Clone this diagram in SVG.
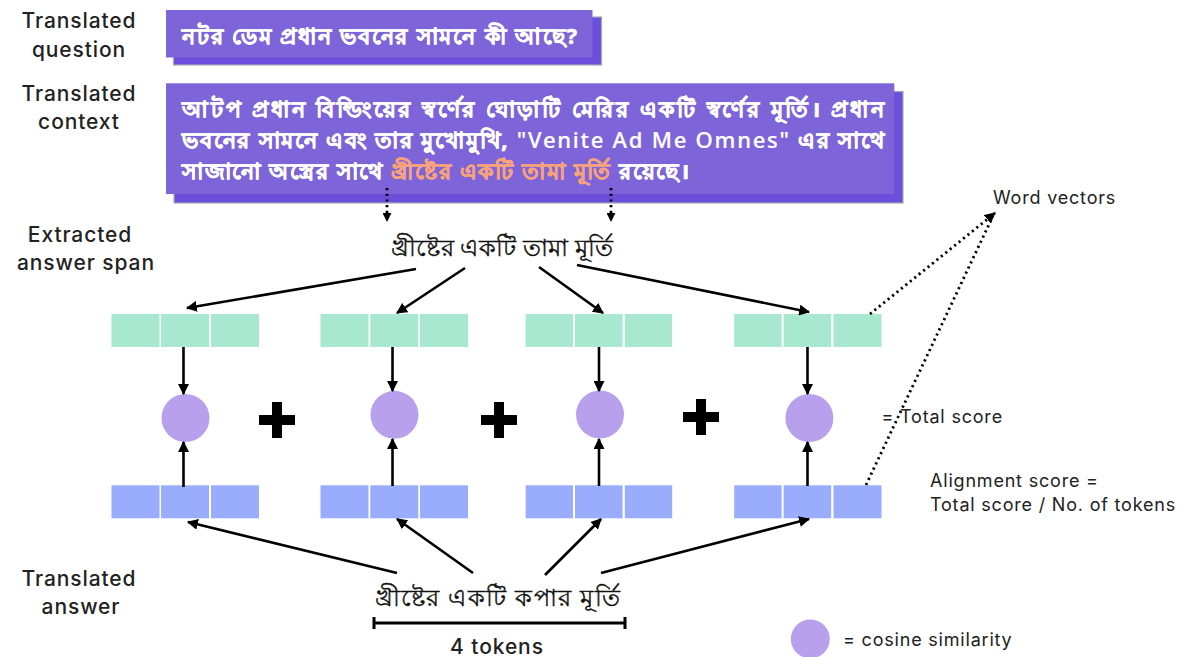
<svg xmlns="http://www.w3.org/2000/svg" width="1192" height="657" viewBox="0 0 1192 657">
<defs>
<style>
.lbl{font-family:Inter,"Open Sans",sans-serif;font-size:21px;font-weight:500;letter-spacing:0.9px;fill:#222;text-anchor:middle;dominant-baseline:central}
.note{font-family:Inter,"Open Sans",sans-serif;font-size:18px;letter-spacing:0.8px;fill:#222;dominant-baseline:central}
.bn{font-family:"Noto Sans","Noto Sans CJK SC",sans-serif;dominant-baseline:central}
.bw{fill:#fff;stroke:#fff;stroke-width:0.7px;font-weight:bold;font-size:22px}
.lat{font-weight:500;stroke-width:0.2px}
.bk{fill:#111;stroke:#111;stroke-width:0.35px;font-size:24px;text-anchor:middle}
.hl{fill:#f6a37c;stroke:#f6a37c}
.shadow{fill:#6b4fda;stroke:#a3aab3;stroke-width:1.2}
.main{fill:#7e64d9}
.g{fill:#a8e8d0}
.b{fill:#9aadfc}
.c{fill:#b9a0ec}
.ln{stroke:#000;stroke-width:2.6;fill:none}
.dot{stroke:#000;stroke-width:2.8;fill:none;stroke-dasharray:2.2 3.5}
</style>
<marker id="ah" viewBox="0 0 10 10" refX="9" refY="5" markerWidth="11" markerHeight="11" markerUnits="userSpaceOnUse" orient="auto">
<path d="M0,0 L10,5 L0,10 z" fill="#000"/>
</marker>
<marker id="ahs" viewBox="0 0 10 10" refX="9" refY="5" markerWidth="9" markerHeight="9" markerUnits="userSpaceOnUse" orient="auto">
<path d="M0,0 L10,5 L0,10 z" fill="#000"/>
</marker>
</defs>

<g id="labels">
<text class="lbl" x="79" y="20">Translated</text>
<text class="lbl" x="79" y="49">question</text>
<text class="lbl" x="79" y="93">Translated</text>
<text class="lbl" x="79" y="121">context</text>
<text class="lbl" x="80" y="234">Extracted</text>
<text class="lbl" x="86" y="262">answer span</text>
<text class="lbl" x="79" y="578">Translated</text>
<text class="lbl" x="81" y="606">answer</text>
</g>

<g id="question">
<rect class="shadow" x="173.5" y="17" width="428" height="48"/>
<rect class="main" x="166" y="10" width="426.5" height="47.5"/>
<text class="bn bw" x="182" y="35" textLength="395" lengthAdjust="spacing">নটর ডেম প্রধান ভবনের সামনে কী আছে?</text>
</g>

<g id="context">
<rect class="shadow" x="174" y="91.5" width="729" height="111.5"/>
<rect class="main" x="166" y="83.3" width="728.3" height="110.7"/>
<text class="bn bw" x="182" y="108" textLength="702" lengthAdjust="spacing">আটপ প্রধান বিল্ডিংয়ের স্বর্ণের ঘোড়াটি মেরির একটি স্বর্ণের মূর্তি। প্রধান</text>
<text class="bn bw" x="182" y="139" textLength="702" lengthAdjust="spacing">ভবনের সামনে এবং তার মুখোমুখি, <tspan class="lat">"Venite Ad Me Omnes"</tspan> এর সাথে</text>
<text class="bn bw" x="182" y="170" textLength="507" lengthAdjust="spacing">সাজানো অস্ত্রের সাথে <tspan class="hl">খ্রীষ্টের একটি তামা মূর্তি</tspan> রয়েছে।</text>
</g>

<g id="span">
<text class="bn bk" x="502" y="246" textLength="222" lengthAdjust="spacing">খ্রীষ্টের একটি তামা মূর্তি</text>
</g>

<g id="answer">
<text class="bn bk" x="497" y="596" textLength="245" lengthAdjust="spacing">খ্রীষ্টের একটি কপার মূর্তি</text>
</g>

<g id="word-vectors-label"><text class="note" x="993" y="197">Word vectors</text></g>

<g id="green-vectors">
<rect class="g" x="111.5" y="314" width="48" height="33"/><rect class="g" x="161" y="314" width="48" height="33"/><rect class="g" x="211" y="314" width="48" height="33"/>
<rect class="g" x="320.5" y="314" width="48" height="33"/><rect class="g" x="370.3" y="314" width="48" height="33"/><rect class="g" x="420" y="314" width="48" height="33"/>
<rect class="g" x="525.6" y="314" width="47.4" height="33"/><rect class="g" x="575" y="314" width="47.6" height="33"/><rect class="g" x="624.8" y="314" width="47.4" height="33"/>
<rect class="g" x="734.2" y="314" width="47.4" height="33"/><rect class="g" x="783.6" y="314" width="47.6" height="33"/><rect class="g" x="833.5" y="314" width="48" height="33"/>
</g>

<g id="blue-vectors">
<rect class="b" x="111.5" y="485.3" width="48" height="33"/><rect class="b" x="161" y="485.3" width="48" height="33"/><rect class="b" x="211" y="485.3" width="48" height="33"/>
<rect class="b" x="320.5" y="485.3" width="48" height="33"/><rect class="b" x="370.3" y="485.3" width="48" height="33"/><rect class="b" x="420" y="485.3" width="48" height="33"/>
<rect class="b" x="525.6" y="485.3" width="47.4" height="33"/><rect class="b" x="575" y="485.3" width="47.6" height="33"/><rect class="b" x="624.8" y="485.3" width="47.4" height="33"/>
<rect class="b" x="734.2" y="485.3" width="47.4" height="33"/><rect class="b" x="783.6" y="485.3" width="47.6" height="33"/><rect class="b" x="833.5" y="485.3" width="48" height="33"/>
</g>

<g id="similarity">
<circle class="c" cx="185.5" cy="418" r="24"/>
<circle class="c" cx="394.5" cy="414.8" r="24"/>
<circle class="c" cx="600" cy="414.5" r="24"/>
<circle class="c" cx="809.4" cy="418" r="24"/>
</g>

<g id="plus-signs" fill="#000">
<path d="M272,402 h10 v13 h13 v10 h-13 v13 h-10 v-13 h-13 v-10 h13 z"/>
<path d="M494,402 h10 v13 h13 v10 h-13 v13 h-10 v-13 h-13 v-10 h13 z"/>
<path d="M696,399 h10 v13 h13 v10 h-13 v13 h-10 v-13 h-13 v-10 h13 z"/>
</g>

<g id="total-score"><text class="note" x="881.5" y="416">= Total score</text></g>
<g id="alignment-score">
<text class="note" x="930" y="480">Alignment score =</text>
<text class="note" x="930" y="504">Total score / No. of tokens</text>
</g>

<g id="legend">
<circle class="c" cx="810.3" cy="639" r="19.5"/>
<text class="note" x="843" y="639">= cosine similarity</text>
</g>

<g id="token-count">
<path d="M374,623 H625 M374,617 V629 M625,617 V629" stroke="#000" stroke-width="3" fill="none"/>
<text class="lbl" x="497" y="646">4 tokens</text>
</g>

<g id="connectors">
<path class="dot" d="M387,188 V221" marker-end="url(#ahs)"/>
<path class="dot" d="M611,188 V221" marker-end="url(#ahs)"/>
<path class="ln" d="M416,269 L187,308" marker-end="url(#ah)"/>
<path class="ln" d="M465,268 L397,313" marker-end="url(#ah)"/>
<path class="ln" d="M539,267 L603,313" marker-end="url(#ah)"/>
<path class="ln" d="M577,265 L809,312" marker-end="url(#ah)"/>
<path class="ln" d="M183.5,347 V394" marker-end="url(#ah)"/>
<path class="ln" d="M392.5,347 V391" marker-end="url(#ah)"/>
<path class="ln" d="M599,347 V391" marker-end="url(#ah)"/>
<path class="ln" d="M807.5,347 V394" marker-end="url(#ah)"/>
<path class="ln" d="M183.5,487 V442" marker-end="url(#ah)"/>
<path class="ln" d="M392.5,486 V439" marker-end="url(#ah)"/>
<path class="ln" d="M599,486 V439" marker-end="url(#ah)"/>
<path class="ln" d="M807.5,486 V442" marker-end="url(#ah)"/>
<path class="ln" d="M397,573 L188,522" marker-end="url(#ah)"/>
<path class="ln" d="M473,573 L397,519" marker-end="url(#ah)"/>
<path class="ln" d="M545,575 L601,519" marker-end="url(#ah)"/>
<path class="ln" d="M601,573 L809,519" marker-end="url(#ah)"/>
<path class="dot" d="M870,314 L995,213" marker-end="url(#ah)"/>
<path class="dot" d="M866,485 L993,216"/>
</g>
</svg>
